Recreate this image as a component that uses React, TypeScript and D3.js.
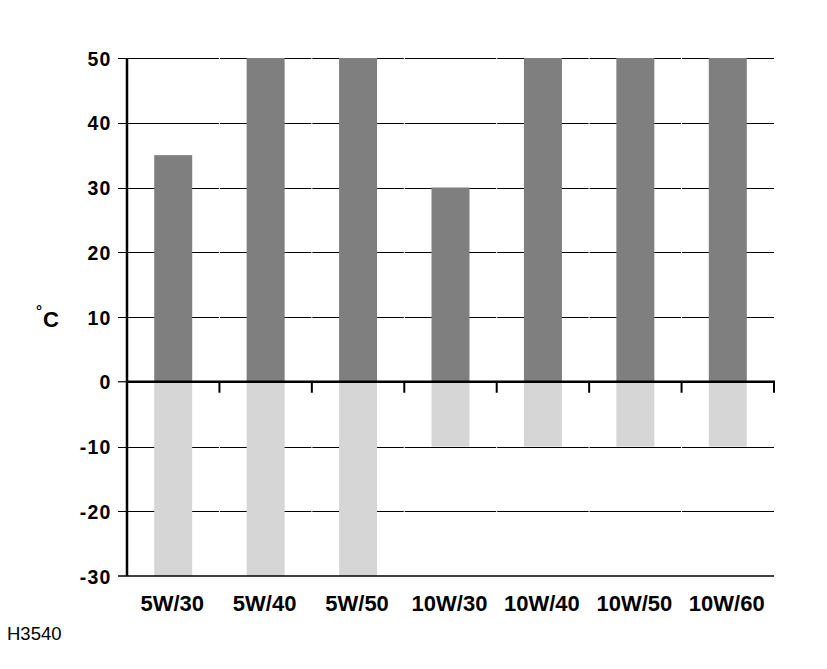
import React from "react";
import * as d3 from "d3";

const categories = ["5W/30", "5W/40", "5W/50", "10W/30", "10W/40", "10W/50", "10W/60"];
const upperValues = [35, 50, 50, 30, 50, 50, 50];
const lowerValues = [-30, -30, -30, -10, -10, -10, -10];
const yTicks = [50, 40, 30, 20, 10, 0, -10, -20, -30];

const W = 827;
const H = 669;
const left = 127;
const right = 774;
const top = 58;
const bottom = 576;

export default function App() {
  const x = d3
    .scaleBand<string>()
    .domain(categories)
    .range([left, right])
    .paddingInner(0.589)
    .paddingOuter(0.2945);
  const xb = d3.scaleBand<string>().domain(categories).range([left, right]).padding(0);
  const y = d3.scaleLinear().domain([-30, 50]).range([bottom, top]);
  const font = "'Liberation Sans', Arial, Helvetica, sans-serif";
  const boundaries = categories.map((c) => (xb(c) as number) + xb.bandwidth());
  const segStarts = [left - 9, ...boundaries.slice(0, -1).map((b) => b + 0.5)];
  const segEnds = [...boundaries.slice(0, -1).map((b) => b - 0.5), right];

  return (
    <svg
      width={W}
      height={H}
      style={{ position: "absolute", left: 0, top: 0, background: "#fff" }}
      fontFamily={font}
    >
      <rect x={0} y={0} width={W} height={H} fill="#fff" />
      {yTicks
        .filter((t) => t !== 0 && t !== -30)
        .map((t) =>
          segStarts.map((s, i) => (
            <line
              key={`g${t}-${i}`}
              x1={s}
              x2={segEnds[i]}
              y1={Math.round(y(t)) + 0.5}
              y2={Math.round(y(t)) + 0.5}
              stroke="#000"
              strokeWidth={1.1}
            />
          ))
        )}
      {categories.map((c, i) => (
        <g key={c}>
          <rect
            x={x(c)}
            width={x.bandwidth()}
            y={y(upperValues[i])}
            height={y(0) - y(upperValues[i])}
            fill="#7f7f7f"
          />
          <rect
            x={x(c)}
            width={x.bandwidth()}
            y={y(0)}
            height={y(lowerValues[i]) - y(0)}
            fill="#d6d6d6"
          />
        </g>
      ))}
      <line x1={left - 9} x2={right} y1={y(-30)} y2={y(-30)} stroke="#000" strokeWidth={1.5} />
      <line x1={left - 9} x2={left} y1={y(0)} y2={y(0)} stroke="#000" strokeWidth={1.2} />
      <line x1={left} x2={right + 1} y1={y(0)} y2={y(0)} stroke="#000" strokeWidth={2.5} />
      {boundaries.map((b, i) => (
        <line key={`t${i}`} x1={b} x2={b} y1={y(0)} y2={y(0) + 11} stroke="#000" strokeWidth={2} />
      ))}
      <line x1={left} x2={left} y1={top} y2={bottom} stroke="#000" strokeWidth={2.5} />
      {yTicks.map((t) => (
        <text
          key={`yl${t}`}
          x={111.5}
          y={y(t) + 7.5}
          textAnchor="end"
          fontSize={19.5}
          fontWeight="bold"
          letterSpacing={1.2}
        >
          {t}
        </text>
      ))}
      {categories.map((c) => (
        <text
          key={`xl${c}`}
          x={(xb(c) as number) + xb.bandwidth() / 2 - 1}
          y={611}
          textAnchor="middle"
          fontSize={22}
          fontWeight="bold"
        >
          {c}
        </text>
      ))}
      <text x={36} y={316} fontSize={15} fontWeight="bold">
        °
      </text>
      <text x={43} y={327} fontSize={22} fontWeight="bold">
        C
      </text>
      <text x={7} y={640} fontSize={18.5}>
        H3540
      </text>
    </svg>
  );
}
